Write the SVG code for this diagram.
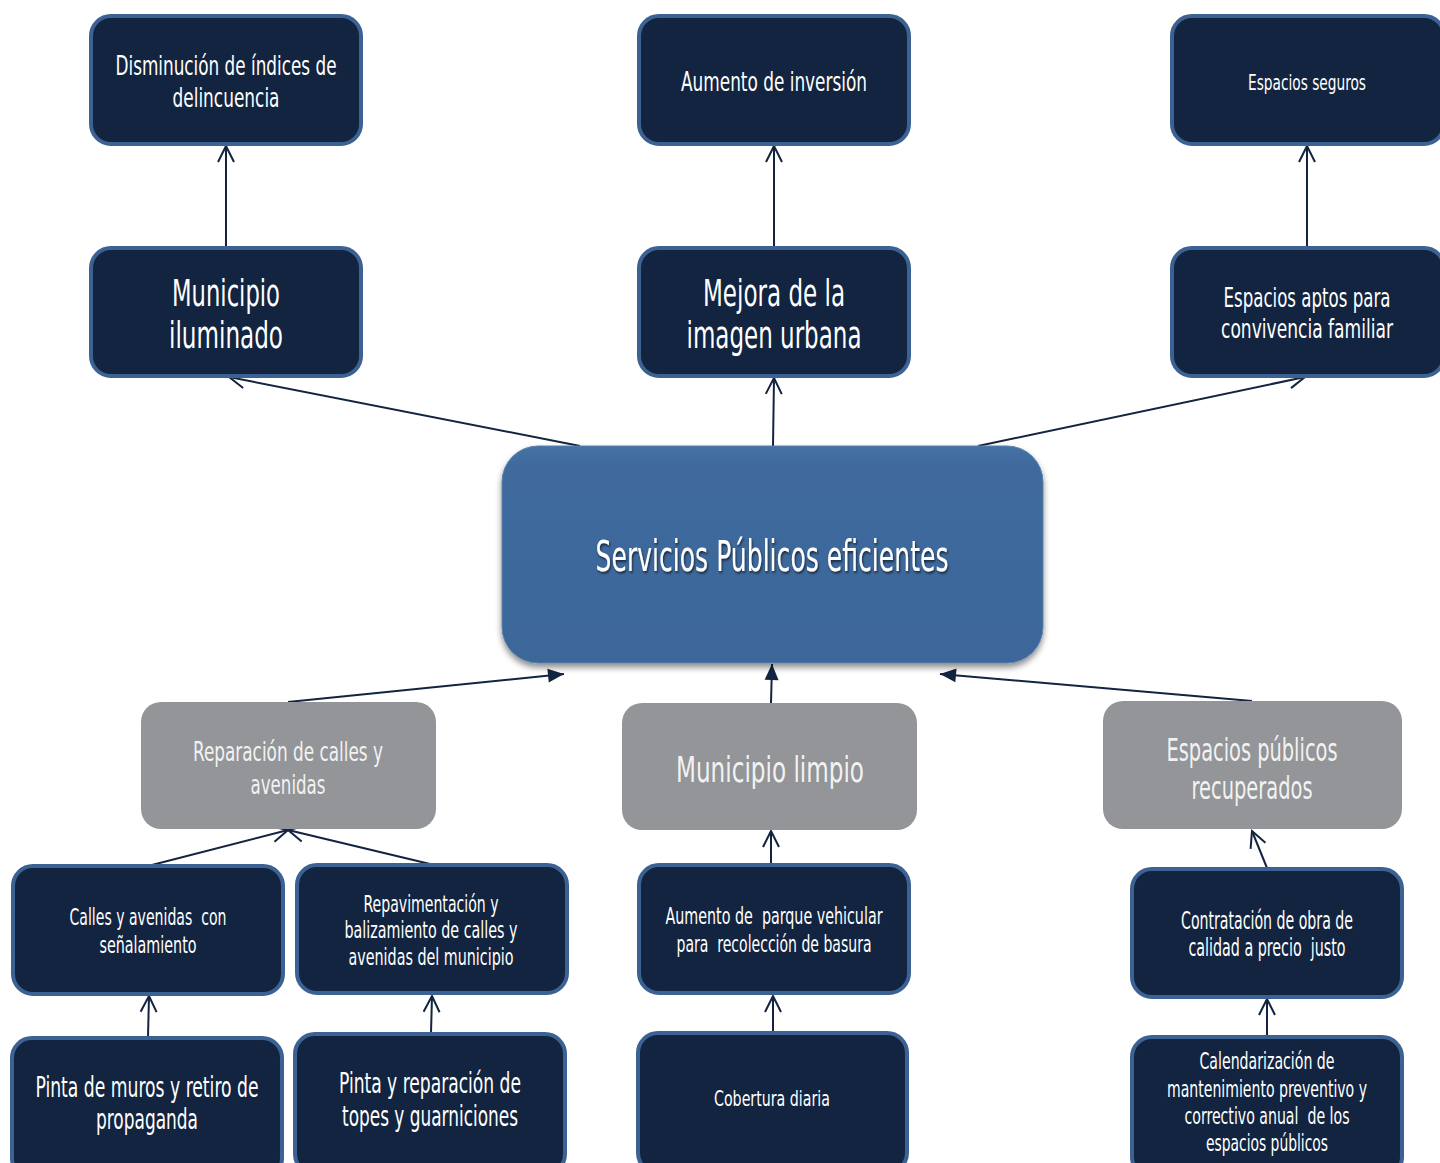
<svg xmlns="http://www.w3.org/2000/svg" width="1440" height="1163" viewBox="0 0 1440 1163">
<defs>
<style>
.dk{fill:#12243F;stroke:#3C6293;stroke-width:4}
.gr{fill:#939598;stroke:none}
.t{font-family:"Liberation Sans Narrow","DejaVu Sans Condensed","Liberation Sans",sans-serif;fill:#FFFFFF;text-anchor:middle;white-space:pre}
.tg{fill:#F2F2F2}
.c{stroke:#12243F;stroke-width:2;fill:none}
</style>
<marker id="open" viewBox="0 0 20 20" refX="18" refY="10" markerWidth="20" markerHeight="20" markerUnits="userSpaceOnUse" orient="auto">
<path d="M2,2 L18,10 L2,18" fill="none" stroke="#12243F" stroke-width="2"/>
</marker>
<marker id="fill" viewBox="0 0 20 20" refX="18" refY="10" markerWidth="20" markerHeight="20" markerUnits="userSpaceOnUse" orient="auto">
<path d="M2,3 L18,10 L2,17 Z" fill="#12243F"/>
</marker>
<linearGradient id="cg" x1="0" y1="0" x2="0" y2="1">
<stop offset="0" stop-color="#4670A3"/>
<stop offset="0.1" stop-color="#3F6A9D"/>
<stop offset="1" stop-color="#3C6699"/>
</linearGradient>
<filter id="sh" x="-10%" y="-10%" width="120%" height="130%">
<feDropShadow dx="0" dy="4" stdDeviation="3" flood-color="#000" flood-opacity="0.45"/>
</filter>
<filter id="ts" x="-10%" y="-30%" width="120%" height="160%">
<feDropShadow dx="1" dy="2" stdDeviation="1" flood-color="#000" flood-opacity="0.6"/>
</filter>
</defs>

<g id="connectors">
<line class="c" x1="226" y1="247" x2="226" y2="146" marker-end="url(#open)"/>
<line class="c" x1="774" y1="247" x2="774" y2="146" marker-end="url(#open)"/>
<line class="c" x1="1307" y1="247" x2="1307" y2="146" marker-end="url(#open)"/>
<line class="c" x1="580" y1="446" x2="229" y2="377" marker-end="url(#open)"/>
<line class="c" x1="773" y1="446" x2="774" y2="378" marker-end="url(#open)"/>
<line class="c" x1="978" y1="446" x2="1305" y2="377" marker-end="url(#open)"/>
<line class="c" x1="288" y1="702" x2="564" y2="674" marker-end="url(#fill)"/>
<line class="c" x1="771" y1="703" x2="772" y2="664" marker-end="url(#fill)"/>
<line class="c" x1="1252" y1="701" x2="940" y2="674" marker-end="url(#fill)"/>
<line class="c" x1="148" y1="866" x2="288" y2="830" marker-end="url(#open)"/>
<line class="c" x1="430" y1="864" x2="288" y2="830" marker-end="url(#open)"/>
<line class="c" x1="771" y1="864" x2="771" y2="831" marker-end="url(#open)"/>
<line class="c" x1="1267" y1="868" x2="1252" y2="831" marker-end="url(#open)"/>
<line class="c" x1="148" y1="1037" x2="149" y2="996" marker-end="url(#open)"/>
<line class="c" x1="431" y1="1033" x2="432" y2="996" marker-end="url(#open)"/>
<line class="c" x1="773" y1="1032" x2="773" y2="996" marker-end="url(#open)"/>
<line class="c" x1="1267" y1="1036" x2="1267" y2="999" marker-end="url(#open)"/>
</g>

<g id="n1"><rect class="dk" x="91" y="16" width="270" height="128" rx="20"/>
<text class="t" font-size="27"><tspan x="226" y="75" textLength="221" lengthAdjust="spacingAndGlyphs">Disminución de índices de</tspan><tspan x="226" y="107" textLength="107" lengthAdjust="spacingAndGlyphs">delincuencia</tspan></text></g>

<g id="n2"><rect class="dk" x="639" y="16" width="270" height="128" rx="20"/>
<text class="t" font-size="27"><tspan x="774" y="91" textLength="186" lengthAdjust="spacingAndGlyphs">Aumento de inversión</tspan></text></g>

<g id="n3"><rect class="dk" x="1172" y="16" width="272" height="128" rx="20"/>
<text class="t" font-size="22"><tspan x="1307" y="90" textLength="118" lengthAdjust="spacingAndGlyphs">Espacios seguros</tspan></text></g>

<g id="n4"><rect class="dk" x="91" y="248" width="270" height="128" rx="20"/>
<text class="t" font-size="38"><tspan x="226" y="306" textLength="108" lengthAdjust="spacingAndGlyphs">Municipio</tspan><tspan x="226" y="348" textLength="114" lengthAdjust="spacingAndGlyphs">iluminado</tspan></text></g>

<g id="n5"><rect class="dk" x="639" y="248" width="270" height="128" rx="20"/>
<text class="t" font-size="38"><tspan x="774" y="306" textLength="142" lengthAdjust="spacingAndGlyphs">Mejora de la</tspan><tspan x="774" y="348" textLength="175" lengthAdjust="spacingAndGlyphs">imagen urbana</tspan></text></g>

<g id="n6"><rect class="dk" x="1172" y="248" width="272" height="128" rx="20"/>
<text class="t" font-size="27"><tspan x="1307" y="307" textLength="167" lengthAdjust="spacingAndGlyphs">Espacios aptos para</tspan><tspan x="1307" y="338" textLength="172" lengthAdjust="spacingAndGlyphs">convivencia familiar</tspan></text></g>

<g id="center"><rect x="502" y="446" width="541" height="217" rx="36" fill="url(#cg)" stroke="#5A82B3" stroke-width="1" filter="url(#sh)"/>
<text class="t" font-size="43" filter="url(#ts)"><tspan x="772" y="571" textLength="353" lengthAdjust="spacingAndGlyphs">Servicios Públicos eficientes</tspan></text></g>

<g id="g1"><rect class="gr" x="141" y="702" width="295" height="127" rx="20"/>
<text class="t tg" font-size="27"><tspan x="288" y="761" textLength="190" lengthAdjust="spacingAndGlyphs">Reparación de calles y</tspan><tspan x="288" y="794" textLength="75" lengthAdjust="spacingAndGlyphs">avenidas</tspan></text></g>

<g id="g2"><rect class="gr" x="622" y="703" width="295" height="127" rx="20"/>
<text class="t tg" font-size="36"><tspan x="770" y="782" textLength="188" lengthAdjust="spacingAndGlyphs">Municipio limpio</tspan></text></g>

<g id="g3"><rect class="gr" x="1103" y="701" width="299" height="128" rx="20"/>
<text class="t tg" font-size="32"><tspan x="1252" y="761" textLength="171" lengthAdjust="spacingAndGlyphs">Espacios públicos</tspan><tspan x="1252" y="799" textLength="121" lengthAdjust="spacingAndGlyphs">recuperados</tspan></text></g>

<g id="n7"><rect class="dk" x="13" y="866" width="270" height="128" rx="20"/>
<text class="t" font-size="23" xml:space="preserve"><tspan x="148" y="925" textLength="157" lengthAdjust="spacingAndGlyphs">Calles y avenidas  con</tspan><tspan x="148" y="953" textLength="97" lengthAdjust="spacingAndGlyphs">señalamiento</tspan></text></g>

<g id="n8"><rect class="dk" x="297" y="865" width="270" height="128" rx="20"/>
<text class="t" font-size="23"><tspan x="431" y="912" textLength="135" lengthAdjust="spacingAndGlyphs">Repavimentación y</tspan><tspan x="431" y="938" textLength="173" lengthAdjust="spacingAndGlyphs">balizamiento de calles y</tspan><tspan x="431" y="965" textLength="165" lengthAdjust="spacingAndGlyphs">avenidas del municipio</tspan></text></g>

<g id="n9"><rect class="dk" x="639" y="865" width="270" height="128" rx="20"/>
<text class="t" font-size="23" xml:space="preserve"><tspan x="774" y="924" textLength="217" lengthAdjust="spacingAndGlyphs">Aumento de  parque vehicular</tspan><tspan x="774" y="952" textLength="195" lengthAdjust="spacingAndGlyphs">para  recolección de basura</tspan></text></g>

<g id="n10"><rect class="dk" x="1132" y="869" width="270" height="128" rx="20"/>
<text class="t" font-size="24" xml:space="preserve"><tspan x="1267" y="929" textLength="172" lengthAdjust="spacingAndGlyphs">Contratación de obra de</tspan><tspan x="1267" y="956" textLength="157" lengthAdjust="spacingAndGlyphs">calidad a precio  justo</tspan></text></g>

<g id="n11"><rect class="dk" x="12" y="1038" width="270" height="140" rx="20"/>
<text class="t" font-size="28"><tspan x="147" y="1097" textLength="223" lengthAdjust="spacingAndGlyphs">Pinta de muros y retiro de</tspan><tspan x="147" y="1129" textLength="102" lengthAdjust="spacingAndGlyphs">propaganda</tspan></text></g>

<g id="n12"><rect class="dk" x="295" y="1034" width="270" height="140" rx="20"/>
<text class="t" font-size="28"><tspan x="430" y="1093" textLength="182" lengthAdjust="spacingAndGlyphs">Pinta y reparación de</tspan><tspan x="430" y="1126" textLength="176" lengthAdjust="spacingAndGlyphs">topes y guarniciones</tspan></text></g>

<g id="n13"><rect class="dk" x="638" y="1033" width="269" height="140" rx="20"/>
<text class="t" font-size="22"><tspan x="772" y="1106" textLength="116" lengthAdjust="spacingAndGlyphs">Cobertura diaria</tspan></text></g>

<g id="n14"><rect class="dk" x="1132" y="1037" width="270" height="140" rx="20"/>
<text class="t" font-size="23" xml:space="preserve"><tspan x="1267" y="1069" textLength="135" lengthAdjust="spacingAndGlyphs">Calendarización de</tspan><tspan x="1267" y="1097" textLength="200" lengthAdjust="spacingAndGlyphs">mantenimiento preventivo y</tspan><tspan x="1267" y="1124" textLength="165" lengthAdjust="spacingAndGlyphs">correctivo anual  de los</tspan><tspan x="1267" y="1151" textLength="122" lengthAdjust="spacingAndGlyphs">espacios públicos</tspan></text></g>
</svg>
